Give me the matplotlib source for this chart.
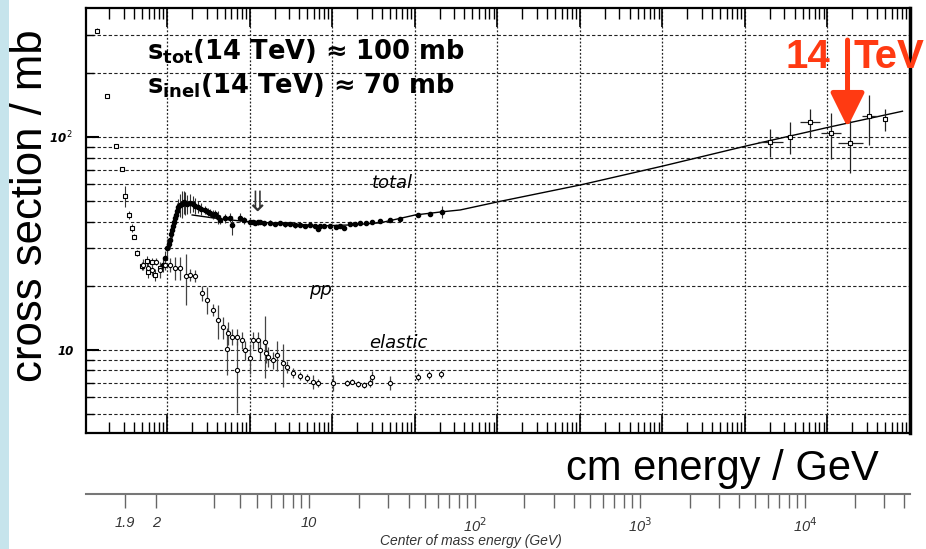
import numpy as np
import matplotlib
matplotlib.use("Agg")
import matplotlib.pyplot as plt
from matplotlib.ticker import FixedLocator, NullFormatter
from matplotlib.patches import Rectangle

# ---------------- data ----------------
# beam momentum p_lab [GeV/c] and cross sections [mb]
tot_lo_p = [0.142, 0.187, 0.241, 0.285, 0.310, 0.346, 0.376, 0.398, 0.433, 0.498,
            0.572, 0.588, 0.658, 0.716, 0.823]
tot_lo_s = [315, 156, 91, 71, 53, 43, 37.4, 34, 28.5, 24.8, 26.0, 23.2, 25.9, 22.5, 24.3]
tot_lo_e = [8, 0, 2, 1, 6, 2, 1.5, 1, 1, 1, 1.5, 1.5, 1, 1.5, 1]

tot_p = [0.895, 0.946, 1.0, 1.04, 1.087, 1.12, 1.15, 1.19, 1.22, 1.26,
         1.29, 1.33, 1.36, 1.42, 1.52, 1.58, 1.65, 1.75, 1.90, 2.07,
         2.2, 2.38, 2.6, 2.89, 3.1, 3.32, 3.6, 3.82, 4.15, 4.39,
         5.0, 5.80, 6.14, 7.67, 8.5, 10.1, 11.0, 11.7, 12.5, 13.4,
         15.0, 17.7, 20.0, 23.4, 27.0, 31.0, 35.0, 40.9, 47.0, 54.1,
         62.0, 67.7, 71.6, 80.0, 94.6, 110, 125, 140, 165, 190,
         218, 260, 305, 382, 505, 667, 1102, 1542, 2154]
tot_s = [25.1, 27.0, 30.1, 31.5, 32.8, 35.0, 36.6, 38.0, 39.9, 41.5,
         43.0, 45.0, 46.9, 48.0, 48.5, 49.5, 49.0, 48.3, 49.0, 48.5,
         47.5, 46.9, 46.0, 45.4, 44.6, 43.9, 43.2, 43.5, 42.1, 40.8,
         41.5, 41.7, 38.6, 41.7, 40.5, 39.9, 39.9, 39.5, 39.7, 39.9,
         39.3, 39.5, 39.0, 39.5, 38.8, 39.1, 38.4, 38.6, 38.0, 38.6,
         38.2, 37.0, 38.2, 38.0, 38.2, 37.6, 38.2, 37.4, 39.1, 38.8,
         39.5, 39.6, 39.9, 40.4, 40.8, 41.2, 43.0, 43.5, 44.5]
tot_e = [2, 2, 3, 2, 3, 3, 3, 2, 3, 3,
         4, 4, 4, 6, 7, 6, 6, 5, 5, 4,
         4, 3, 3, 2, 2, 2, 2, 2, 3, 2,
         2, 2, 4, 2, 1.5, 1, 1, 1, 1, 1,
         1, 1, 0.8, 0.8, 1, 0.8, 1, 0.6, 0.8, 0.6,
         0.6, 0.8, 0.6, 0.6, 0.6, 0.6, 0.6, 0.8, 0.8, 0.6,
         0.6, 0.6, 0.6, 0.6, 0.6, 0.6, 1, 1, 3]

hi_p = [2.04e7, 3.56e7, 6.22e7, 1.09e8, 1.90e8, 3.23e8, 4.91e8]
hi_s = [94.6, 100, 117, 104, 94, 125, 121]
hi_e = [14, 17, 18, 25, 26, 33, 14]
hi_pmin = [1.46e7, 3.56e7, 4.7e7, 0.83e8, 1.36e8, 2.6e8, 4.91e8]
hi_pmax = [2.86e7, 3.56e7, 8.2e7, 1.44e8, 2.66e8, 4.0e8, 4.91e8]

fit_p = [2.01, 4.39, 10.1, 31.0, 71.6, 165, 382, 1014, 2154, 3565,
         1.0e4, 1.04e5, 1.03e6, 1.04e7, 1.03e8, 8.1e8]
fit_s = [43.0, 41.2, 39.9, 39.1, 38.2, 38.6, 39.5, 43.0, 44.5, 45.4,
         49.5, 59.6, 73.1, 90.7, 111, 132]

el_p = [0.512, 0.588, 0.658, 0.736, 0.823, 0.946, 1.087, 1.25, 1.44, 1.70,
        1.90, 2.18, 2.66, 3.05, 3.61, 4.15, 4.77, 5.34, 5.49, 6.14,
        7.05, 7.05, 8.11, 8.82, 10.1, 11.0, 12.7, 13.4, 15.4, 15.8,
        16.8, 19.3, 21.5, 25.5, 28.5, 33.7, 40.9, 49.8, 58.9, 67.7,
        103, 152, 175, 207, 244, 289, 305, 505, 1102, 1500, 2094]
el_s = [25.1, 24.3, 23.8, 25.9, 23.8, 25.1, 25.1, 24.3, 24.3, 22.3,
        22.5, 22.3, 18.5, 17.2, 15.4, 13.8, 12.8, 10.1, 12.0, 11.5,
        8.05, 11.5, 11.1, 10.0, 9.17, 11.1, 11.1, 10.0, 10.9, 9.68,
        9.28, 8.97, 9.48, 8.69, 8.32, 7.80, 7.55, 7.39, 7.08, 7.00,
        7.00, 7.00, 7.08, 6.92, 6.85, 7.0, 7.47, 7.0, 7.47, 7.63, 7.71]
el_e = [1.5, 1.5, 1.5, 1.0, 2, 1.5, 2, 3, 3, 6,
        1.5, 1.5, 1.5, 2.5, 1, 2.5, 1.5, 2.5, 1.5, 1,
        3, 1, 1, 1, 1.5, 1, 1, 1, 3.5, 1,
        1, 0.8, 1.5, 2, 0.5, 0.4, 0.3, 0.3, 0.5, 0.3,
        0.6, 0.2, 0.2, 0.2, 0.2, 0.3, 0.5, 0.5, 0.3, 0.3, 0.3]

sqrts_major = [1.9, 2, 10, 100, 1000, 10000]
sqrts_major_labels = ["1.9", "2", "10", "10$^2$", "10$^3$", "10$^4$"]
sqrts_minor = [3, 4, 5, 6, 7, 8, 9, 20, 30, 40, 50, 60, 70, 80, 90,
               200, 300, 400, 500, 600, 700, 800, 900,
               2000, 3000, 4000, 5000, 6000, 7000, 8000, 9000,
               20000, 30000, 40000]

arrow_p = 1.75e8
arrow_s_from, arrow_s_to = 285, 111

M_P = 0.938


def plab_to_sqrts(p):
    p = np.abs(np.asarray(p, float))
    e = np.sqrt(p ** 2 + M_P ** 2)
    return np.sqrt(2 * M_P ** 2 + 2 * M_P * e)


def sqrts_to_plab(w):
    w = np.abs(np.asarray(w, float))
    e = (w ** 2 - 2 * M_P ** 2) / (2 * M_P)
    e = np.maximum(e, M_P * (1 + 1e-9))
    return np.sqrt(e ** 2 - M_P ** 2)


# ---------------- figure ----------------
W, H = 926, 549
fig = plt.figure(figsize=(W / 100, H / 100), dpi=100)
fig.patch.set_facecolor("white")
fig.patches.append(Rectangle((0, 0), 9 / W, 1, transform=fig.transFigure,
                             facecolor="#c6e4ec", edgecolor="none", zorder=0))

L, R, T, B = 86, 910, 8, 433
ax = fig.add_axes([L / W, 1 - B / H, (R - L) / W, (B - T) / H])
ax.set_xscale("log")
ax.set_yscale("log")
ax.set_xlim(0.104, 1.0e9)
ax.set_ylim(4.07, 403)
ax.set_axisbelow(True)

ax.xaxis.set_major_locator(FixedLocator([10.0 ** d for d in range(-1, 10)]))
ax.xaxis.set_minor_locator(FixedLocator([k * 10.0 ** d for d in range(-1, 9) for k in range(2, 10)]))
ax.xaxis.set_major_formatter(NullFormatter())
ax.xaxis.set_minor_formatter(NullFormatter())
ax.yaxis.set_major_locator(FixedLocator([10, 100]))
ax.yaxis.set_minor_locator(FixedLocator([5, 6, 7, 8, 9, 20, 30, 40, 50, 60, 70, 80, 90, 200, 300]))
ax.yaxis.set_minor_formatter(NullFormatter())
ax.set_yticks([10, 100], labels=["10", "10$^{\\,2}$"], fontstyle="italic",
              fontweight="bold", fontsize=8.5)

ax.tick_params(axis="x", which="both", direction="in", top=True, bottom=True, color="black")
ax.tick_params(axis="x", which="major", length=14, width=1.2)
ax.tick_params(axis="x", which="minor", length=8, width=1.0)
ax.tick_params(axis="y", which="both", direction="in", left=True, right=False, pad=9)
ax.tick_params(axis="y", which="major", length=9, width=1.5)
ax.tick_params(axis="y", which="minor", length=6, width=1.0)

for s in ["left", "bottom", "top"]:
    ax.spines[s].set_linewidth(1.6)
ax.spines["right"].set_linewidth(2.5)

ax.grid(True, which="both", axis="y", linestyle=(0, (3, 2)), color="#222222", lw=0.8)
ax.grid(True, which="major", axis="x", linestyle=(0, (1.5, 1.5)), color="#222222", lw=0.9)

# fit line
ax.plot(fit_p, fit_s, color="black", lw=1.0, zorder=3)

# total cross section data
ax.errorbar(tot_lo_p, tot_lo_s, yerr=tot_lo_e, fmt="s", ms=3.5, mfc="white", mec="black",
            mew=0.8, ecolor="#333333", elinewidth=0.8, capsize=0, zorder=4)
ax.errorbar(tot_p, tot_s, yerr=tot_e, fmt="o", ms=3, mfc="black", mec="black",
            ecolor="#333333", elinewidth=0.8, capsize=0, zorder=4)
hx_lo = np.array(hi_p) - np.array(hi_pmin)
hx_hi = np.array(hi_pmax) - np.array(hi_p)
ax.errorbar(hi_p, hi_s, yerr=hi_e, xerr=[hx_lo, hx_hi], fmt="s", ms=3.5, mfc="white",
            mec="black", mew=0.8, ecolor="#222222", elinewidth=0.9, capsize=0, zorder=4)

# elastic data
ax.errorbar(el_p, el_s, yerr=el_e, fmt="o", ms=3, mfc="white", mec="black", mew=0.8,
            ecolor="#444444", elinewidth=0.9, capsize=0, zorder=4)

# labels in the plot
ax.text(534, 60.8, "total", fontstyle="italic", fontsize=13, family="DejaVu Sans",
        ha="center", va="center")
ax.text(71.6, 19.1, "pp", fontstyle="italic", fontsize=13, family="DejaVu Sans",
        ha="center", va="center")
ax.text(631, 10.8, "elastic", fontstyle="italic", fontsize=13, family="DejaVu Sans",
        ha="center", va="center")
ax.text(12.3, 49, "\u21d3", fontsize=20, family="DejaVu Sans", ha="center", va="center",
        color="#333333")

# red 14 TeV arrow
red = "#ff3a12"
ax.annotate("", xy=(arrow_p, arrow_s_to), xytext=(arrow_p, arrow_s_from),
            arrowprops=dict(arrowstyle="-|>,head_length=1.05,head_width=0.52",
                            mutation_scale=20, lw=3.6, color=red, shrinkA=0, shrinkB=0),
            zorder=6, annotation_clip=False)
fig.text(785 / W, 1 - 68 / H, "14", color=red, fontsize=29, fontweight="bold",
         family="Liberation Sans", va="baseline", ha="left")
fig.text(853 / W, 1 - 68 / H, "TeV", color=red, fontsize=29, fontweight="bold",
         family="Liberation Sans", va="baseline", ha="left")

# black annotation text
fig.text(147 / W, 1 - 60 / H, "s$_{\\mathbf{tot}}$(14 TeV) \u2248 100 mb", fontsize=18.5,
         fontweight="bold", family="DejaVu Sans", va="baseline", ha="left")
fig.text(147 / W, 1 - 93 / H, "s$_{\\mathbf{inel}}$(14 TeV) \u2248 70 mb", fontsize=18.5,
         fontweight="bold", family="DejaVu Sans", va="baseline", ha="left")

# axis titles
fig.text(31 / W, 1 - 206 / H, "cross section / mb", rotation=90, fontsize=31.5,
         family="Liberation Sans", ha="center", va="center")
fig.text(566 / W, 1 - 480 / H, "cm energy / GeV", fontsize=30,
         family="Liberation Sans", ha="left", va="baseline")

# secondary sqrt(s) axis below
loc = -(494 - B) / (B - T)
sec = ax.secondary_xaxis(loc, functions=(plab_to_sqrts, sqrts_to_plab))
sec.set_ticks(sqrts_major, labels=sqrts_major_labels, fontstyle="italic", fontsize=10.5,
              color="#333333", family="Liberation Sans")
sec.set_ticks(sqrts_minor, minor=True)
sec.xaxis.set_minor_formatter(NullFormatter())
sec.tick_params(axis="x", which="both", direction="out", length=10, width=1.0,
                color="#666666", pad=6)
for s in sec.spines.values():
    s.set_color("#777777")
    s.set_linewidth(1.5)

fig.text(471 / W, 1 - 541 / H, "Center of mass energy (GeV)", fontstyle="italic",
         fontsize=10, family="Liberation Sans", color="#333333", ha="center", va="center")

fig.savefig("out.png", dpi=100)
